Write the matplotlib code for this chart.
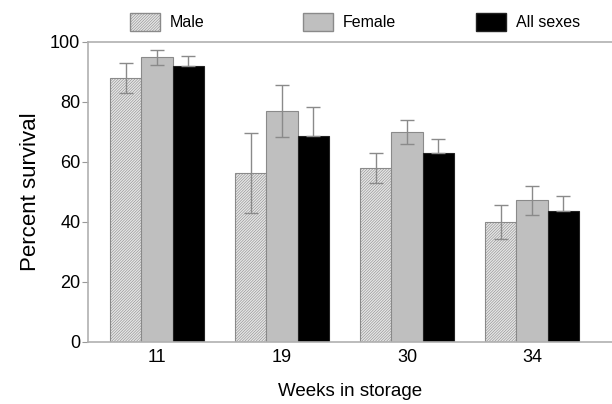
import numpy as np
import matplotlib
matplotlib.use("Agg")
import matplotlib.pyplot as plt
from matplotlib.patches import Patch

weeks = ["11", "19", "30", "34"]
male = [88, 56.4, 58, 40]
male_err = [5, 13.4, 4.9, 5.8]
female = [95, 77, 70, 47.3]
female_err = [2.5, 8.7, 4, 4.8]
allsex = [92, 68.8, 63.1, 43.6]
allsex_err = [3.5, 9.7, 4.5, 5]

plt.rcParams['font.family'] = ['Liberation Sans', 'DejaVu Sans']
plt.rcParams['hatch.linewidth'] = 0.4
plt.rcParams['hatch.color'] = '#a8a8a8'

fig = plt.figure(figsize=(6.12, 4.04), dpi=100)
ax = fig.add_axes([88/612, 62/404, 1 - 88/612, 300/404])

x = np.arange(len(weeks))
w = 0.25
ecol = '#8a8a8a'
male_hatch = '////////////'
ax.bar(x - w, male, w, color='#e6e6e6', edgecolor='#8a8a8a', linewidth=0.8, hatch=male_hatch)
ax.bar(x, female, w, color='#bfbfbf', edgecolor='#8a8a8a', linewidth=0.8)
ax.bar(x + w, allsex, w, color='black', edgecolor='#222222', linewidth=0.8)
ax.errorbar(x - w, male, yerr=male_err, fmt='none', ecolor=ecol, elinewidth=1, capsize=5, capthick=1)
ax.errorbar(x, female, yerr=female_err, fmt='none', ecolor=ecol, elinewidth=1, capsize=5, capthick=1)
ax.errorbar(x + w, allsex, yerr=[np.zeros(4), allsex_err], fmt='none', ecolor=ecol, elinewidth=1, capsize=5, capthick=1)

ax.set_xlim(-0.552, 3.64)
ax.set_ylim(0, 100)
ax.set_yticks(range(0, 101, 20))
ax.set_xticks(x)
ax.set_xticklabels(weeks)
ax.tick_params(axis='x', length=0, labelsize=13, pad=5)
ax.tick_params(axis='y', length=4, color='#999999', labelsize=13, pad=1.5)
ax.spines['right'].set_visible(False)
for s in ['left', 'top', 'bottom']:
    ax.spines[s].set_color('#b0b0b0')
    ax.spines[s].set_linewidth(1.2)

ax.set_ylabel("Percent survival", fontsize=16, labelpad=6.5)
ax.set_xlabel("Weeks in storage", fontsize=13.5, labelpad=12)

handles = [
    Patch(facecolor='#e6e6e6', edgecolor='#8a8a8a', hatch=male_hatch, label='Male'),
    Patch(facecolor='#bfbfbf', edgecolor='#8a8a8a', label='Female'),
    Patch(facecolor='black', edgecolor='#222222', label='All sexes'),
]
for h, xpos in zip(handles, [130, 303, 476]):
    fig.legend(handles=[h], loc='center left', bbox_to_anchor=(xpos/612, 1 - 22/404),
               frameon=False, borderpad=0, borderaxespad=0, fontsize=11.5,
               handlelength=1.9, handleheight=1.4, handletextpad=0.6)

fig.savefig("out.png", dpi=100)
